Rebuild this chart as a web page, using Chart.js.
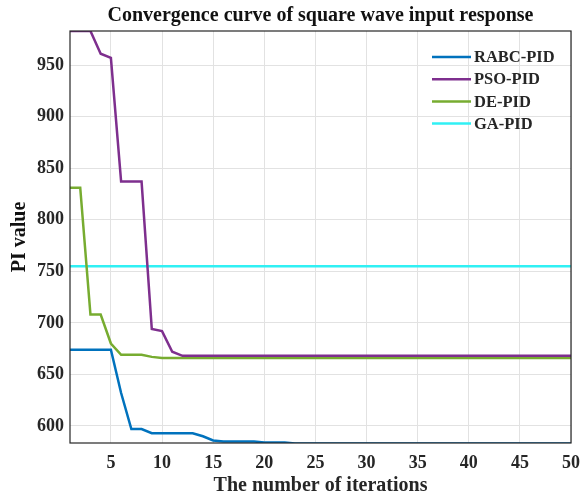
<!DOCTYPE html>
<html lang="en">
<head>
    <meta charset="UTF-8">
    <title>Convergence curve</title>
    <script src="https://cdn.jsdelivr.net/npm/chart.js"></script>
    <style>
        body { margin: 0; background: #fff; }
        canvas { display: block; }
    </style>
</head>
<body>
    <canvas id="convChart" width="582" height="499"></canvas>

    <script>
        // data
        const iterations = [1,2,3,4,5,6,7,8,9,10,11,12,13,14,15,16,17,18,19,20,21,22,23,24,25,26,27,28,29,30,31,32,33,34,35,36,37,38,39,40,41,42,43,44,45,46,47,48,49,50];
        const rabcPid = [674,674,674,674,674,632,597,597,593,593,593,593,593,590,586,585,585,585,585,584,584,584,583,583,583,583,583,583,583,583,583,583,583,583,583,583,583,583,583,583,583,583,583,583,583,583,583,583,583,583];
        const psoPid  = [983,983,983,961,957,837,837,837,694,692,672,668,668,668,668,668,668,668,668,668,668,668,668,668,668,668,668,668,668,668,668,668,668,668,668,668,668,668,668,668,668,668,668,668,668,668,668,668,668,668];
        const dePid   = [831,831,708,708,680,669,669,669,667,666,666,666,666,666,666,666,666,666,666,666,666,666,666,666,666,666,666,666,666,666,666,666,666,666,666,666,666,666,666,666,666,666,666,666,666,666,666,666,666,666];
        const gaPid   = [755,755,755,755,755,755,755,755,755,755,755,755,755,755,755,755,755,755,755,755,755,755,755,755,755,755,755,755,755,755,755,755,755,755,755,755,755,755,755,755,755,755,755,755,755,755,755,755,755,755];
        const seriesNames = ['RABC-PID', 'PSO-PID', 'DE-PID', 'GA-PID'];
        const xTicks = [5,10,15,20,25,30,35,40,45,50];
        const yTicks = [600,650,700,750,800,850,900,950];

        const serif = "'Liberation Serif', 'DejaVu Serif', serif";
        const colors = ['#0072BD', '#7E2F8E', '#77AC30', '#30F0F4'];

        const toPoints = arr => arr.map((v, i) => ({ x: iterations[i], y: v }));

        // box around plot + legend inside the axes
        const boxAndLegend = {
            id: 'boxAndLegend',
            afterDraw(chart) {
                const ctx = chart.ctx;
                const a = chart.chartArea;
                ctx.save();
                ctx.strokeStyle = '#262626';
                ctx.lineWidth = 1.2;
                ctx.strokeRect(a.left, a.top, a.right - a.left, a.bottom - a.top);

                // legend
                ctx.font = 'bold 16.5px ' + serif;
                ctx.textBaseline = 'middle';
                ctx.fillStyle = '#262626';
                chart.data.datasets.forEach((ds, i) => {
                    const y = 57 + i * 22.2;
                    ctx.strokeStyle = ds.borderColor;
                    ctx.lineWidth = 2.5;
                    ctx.beginPath();
                    ctx.moveTo(432, y);
                    ctx.lineTo(471, y);
                    ctx.stroke();
                    ctx.fillText(ds.label, 474, y + 1);
                });
                ctx.restore();
            }
        };

        new Chart(document.getElementById('convChart'), {
            type: 'line',
            data: {
                datasets: [
                    { label: seriesNames[0], data: toPoints(rabcPid), borderColor: colors[0] },
                    { label: seriesNames[1], data: toPoints(psoPid), borderColor: colors[1] },
                    { label: seriesNames[2], data: toPoints(dePid), borderColor: colors[2] },
                    { label: seriesNames[3], data: toPoints(gaPid), borderColor: colors[3] }
                ].map(d => Object.assign(d, { borderWidth: 2.5, pointRadius: 0, tension: 0, fill: false }))
            },
            options: {
                responsive: false,
                animation: false,
                layout: { padding: { left: 8, right: 11, top: 0, bottom: 1 } },
                plugins: {
                    legend: { display: false },
                    tooltip: { enabled: false },
                    title: {
                        display: true,
                        fullSize: false,
                        text: 'Convergence curve of square wave input response',
                        color: '#111',
                        font: { family: serif, size: 20, weight: 'bold' },
                        padding: { top: 4, bottom: 3 }
                    }
                },
                scales: {
                    x: {
                        type: 'linear',
                        min: 1,
                        max: 50,
                        afterBuildTicks: axis => { axis.ticks = xTicks.map(v => ({ value: v })); },
                        afterFit: scale => {
                            scale.height = 55;
                            scale.paddingLeft = 0;
                            scale.paddingRight = 0;
                        },
                        grid: { color: '#e2e2e2', drawTicks: false },
                        border: { display: false },
                        ticks: {
                            color: '#262626',
                            padding: 10,
                            maxRotation: 0,
                            font: { family: serif, size: 18, weight: 'bold' }
                        },
                        title: {
                            display: true,
                            text: 'The number of iterations',
                            color: '#262626',
                            padding: { top: 0, bottom: 0 },
                            font: { family: serif, size: 20, weight: 'bold' }
                        }
                    },
                    y: {
                        min: 583.5,
                        max: 983,
                        afterBuildTicks: axis => { axis.ticks = yTicks.map(v => ({ value: v })); },
                        afterFit: scale => { scale.width = 62; },
                        grid: { color: '#e2e2e2', drawTicks: false },
                        border: { display: false },
                        ticks: {
                            color: '#262626',
                            padding: 6,
                            font: { family: serif, size: 18, weight: 'bold' }
                        },
                        title: {
                            display: true,
                            text: 'PI value',
                            color: '#111',
                            padding: { top: 0, bottom: 0 },
                            font: { family: serif, size: 20, weight: 'bold' }
                        }
                    }
                }
            },
            plugins: [boxAndLegend]
        });
    </script>
</body>
</html>
